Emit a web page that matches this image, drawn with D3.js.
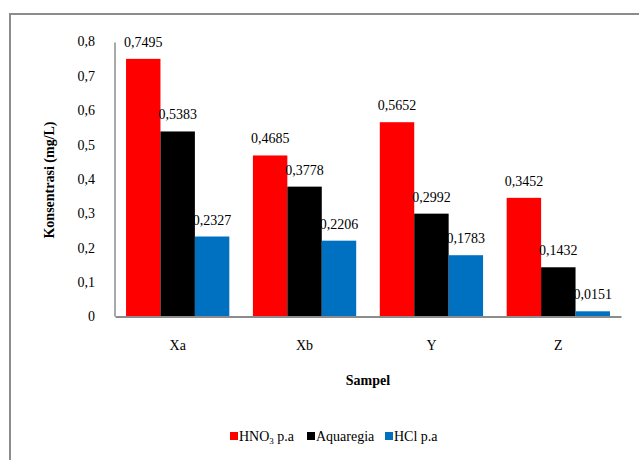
<!DOCTYPE html>
<html>
<head>
<meta charset="utf-8">
<script src="https://cdn.jsdelivr.net/npm/d3@7/dist/d3.min.js"></script>
<style>
  html, body { margin: 0; padding: 0; background: #fff; }
</style>
</head>
<body>
<svg id="chart" width="639" height="460"></svg>
<script>
const categories = ["Xa", "Xb", "Y", "Z"];
const seriesNames = ["HNO₃ p.a", "Aquaregia", "HCl p.a"];
const hno3 = [0.7495, 0.4685, 0.5652, 0.3452];
const aquaregia = [0.5383, 0.3778, 0.2992, 0.1432];
const hcl = [0.2327, 0.2206, 0.1783, 0.0151];
const yTicks = [0, 0.1, 0.2, 0.3, 0.4, 0.5, 0.6, 0.7, 0.8];
const colors = ["#ff0000", "#000000", "#0070c0"];

const FONT = "'Liberation Serif', 'DejaVu Serif', serif";
const FS = "14px";
const seriesValues = [hno3, aquaregia, hcl];
const svg = d3.select("#chart");

// outer frame (runs off the right and bottom edges)
svg.append("rect")
  .attr("x", 10).attr("y", 14).attr("width", 700).attr("height", 500)
  .attr("fill", "none").attr("stroke", "#8c8c8c").attr("stroke-width", 2);

const plot = { left: 115, right: 621, top: 41.5, bottom: 316.5 };
const comma = v => d3.format(".1f")(v).replace(".", ",");
const commaLabel = v => String(v).replace(".", ",");

const x0 = d3.scaleBand().domain(categories).range([plot.left, plot.right]).paddingInner(0.186).paddingOuter(0.087);
const x1 = d3.scaleBand().domain(d3.range(seriesNames.length)).range([0, x0.bandwidth()]);
const y = d3.scaleLinear().domain([0, 0.8]).range([plot.bottom, plot.top]);

// bars and value labels
categories.forEach((cat, ci) => {
  seriesValues.forEach((vals, si) => {
    svg.append("rect")
      .attr("x", x0(cat) + x1(si))
      .attr("y", y(vals[ci]))
      .attr("width", x1.bandwidth())
      .attr("height", y(0) - y(vals[ci]))
      .attr("fill", colors[si]);
    svg.append("text")
      .attr("x", x0(cat) + x1(si) + x1.bandwidth() / 2)
      .attr("y", y(vals[ci]) - 12)
      .attr("text-anchor", "middle")
      .style("font-family", FONT)
      .style("font-size", FS)
      .attr("fill", "#000")
      .text(commaLabel(vals[ci]));
  });
});

// y axis
const yAxis = d3.axisLeft(y).tickValues(yTicks).tickSize(0).tickPadding(20).tickFormat(v => v === 0 ? "0" : comma(v));
const gy = svg.append("g").attr("transform", `translate(${plot.left},0)`).call(yAxis);
gy.select(".domain").attr("stroke", "#8c8c8c").attr("stroke-width", 1.5).attr("d", `M0,${y(0.8) + 1}V${plot.bottom}`);
gy.selectAll("text").style("font-size", FS).style("font-family", FONT).attr("fill", "#000");

// x axis
const xAxis = d3.axisBottom(x0).tickSize(0).tickPadding(24);
const gx = svg.append("g").attr("transform", `translate(0,${plot.bottom})`).call(xAxis);
gx.select(".domain").attr("stroke", "#8c8c8c").attr("stroke-width", 2);
gx.selectAll("text").style("font-size", FS).style("font-family", FONT).attr("fill", "#000");

// axis titles
svg.append("text")
  .attr("x", 368).attr("y", 385)
  .attr("text-anchor", "middle").style("font-size", FS).style("font-family", FONT).attr("font-weight", "bold")
  .text("Sampel");
svg.append("text")
  .attr("transform", "translate(54,180) rotate(-90)")
  .attr("text-anchor", "middle").style("font-size", FS).style("font-family", FONT).attr("font-weight", "bold")
  .text("Konsentrasi (mg/L)");

// legend
const legendItems = [
  { x: 230, label: ["HNO", "3", " p.a"] },
  { x: 307, label: ["Aquaregia"] },
  { x: 385, label: ["HCl p.a"] }
];
legendItems.forEach((item, i) => {
  svg.append("rect")
    .attr("x", item.x).attr("y", 432).attr("width", 8).attr("height", 8)
    .attr("fill", colors[i]);
  const t = svg.append("text")
    .attr("x", item.x + 9).attr("y", 441)
    .style("font-size", FS).style("font-family", FONT);
  if (item.label.length === 3) {
    t.append("tspan").text(item.label[0]);
    t.append("tspan").style("font-size", "9px").attr("dy", 3).text(item.label[1]);
    t.append("tspan").attr("dy", -3).text(item.label[2]);
  } else {
    t.text(item.label[0]);
  }
});
</script>
</body>
</html>
